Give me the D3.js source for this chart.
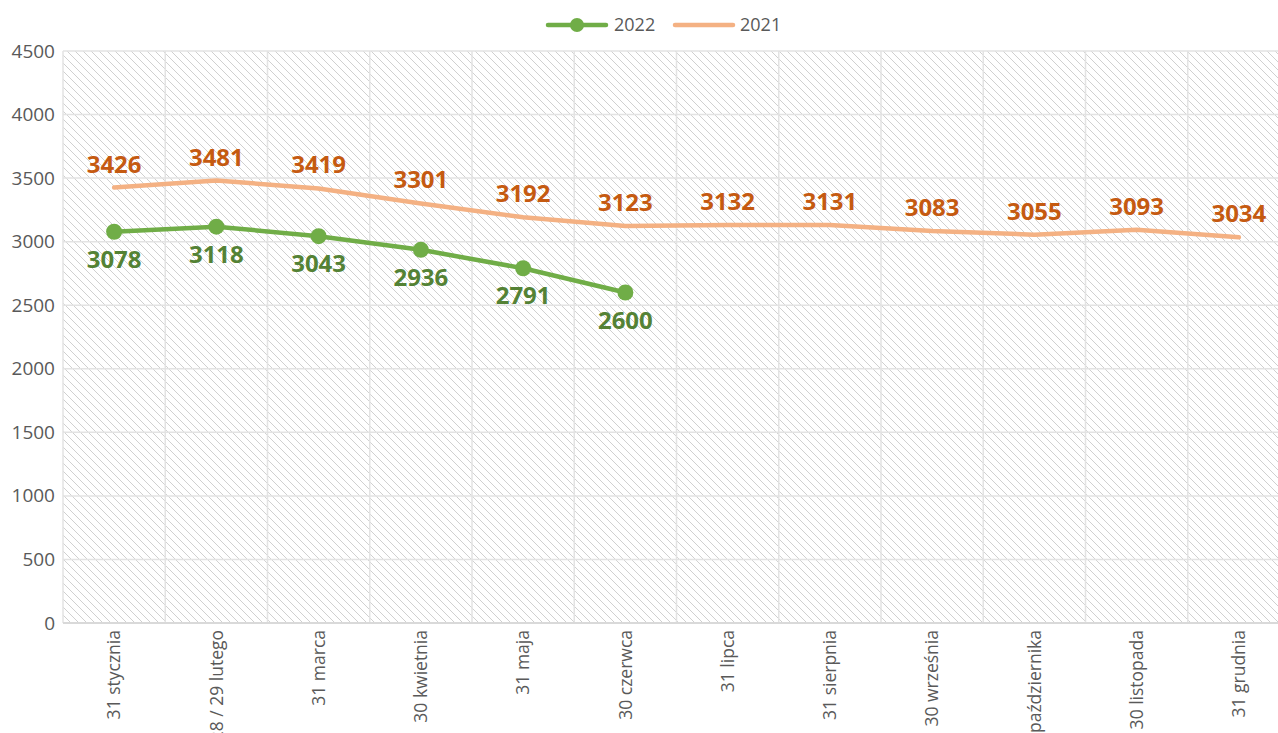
<!DOCTYPE html>
<html>
<head>
<meta charset="utf-8">
<script src="https://cdn.jsdelivr.net/npm/d3@7"></script>
<style>
  body { margin: 0; background: #fff; }
  svg { display: block; font-family: "Open Sans", sans-serif; }
</style>
</head>
<body>
<div class="chart"></div>
<script>
// --- data ---
const months = ["31 stycznia", "28 / 29 lutego", "31 marca", "30 kwietnia", "31 maja", "30 czerwca",
  "31 lipca", "31 sierpnia", "30 września", "31 października", "30 listopada", "31 grudnia"];
const values2022 = [3078, 3118, 3043, 2936, 2791, 2600];
const values2021 = [3426, 3481, 3419, 3301, 3192, 3123, 3132, 3131, 3083, 3055, 3093, 3034];
const yTicks = [0, 500, 1000, 1500, 2000, 2500, 3000, 3500, 4000, 4500];

const W = 1278, H = 733;
const plotLeft = 63, plotRight = 1290, plotTop = 51, plotBottom = 623;

const svg = d3.select(".chart").append("svg")
  .attr("width", W).attr("height", H);

// hatch pattern for plot background
const defs = svg.append("defs");
const pat = defs.append("pattern")
  .attr("id", "hatch")
  .attr("patternUnits", "userSpaceOnUse")
  .attr("width", 8).attr("height", 8);
pat.append("path")
  .attr("d", "M-2,-2 L10,10 M-2,6 L2,10 M6,-2 L10,2")
  .attr("stroke", "#d0d0d0")
  .attr("stroke-width", 1);

const x = d3.scaleBand().domain(months).range([plotLeft, plotRight]);
const y = d3.scaleLinear().domain([0, 4500]).range([plotBottom, plotTop]);

svg.append("rect")
  .attr("x", plotLeft).attr("y", plotTop)
  .attr("width", plotRight - plotLeft).attr("height", plotBottom - plotTop)
  .attr("fill", "url(#hatch)");

// grid
svg.append("g")
  .selectAll("line")
  .data(yTicks.filter(d => d > 0))
  .join("line")
  .attr("x1", plotLeft).attr("x2", plotRight)
  .attr("y1", d => y(d)).attr("y2", d => y(d))
  .attr("stroke", "#e3e3e3").attr("stroke-width", 1.5);

svg.append("g")
  .selectAll("line")
  .data(months)
  .join("line")
  .attr("x1", d => x(d)).attr("x2", d => x(d))
  .attr("y1", plotTop).attr("y2", plotBottom)
  .attr("stroke", "#e3e3e3").attr("stroke-width", 1.5);

// x axis line
svg.append("line")
  .attr("x1", plotLeft).attr("x2", plotRight)
  .attr("y1", plotBottom).attr("y2", plotBottom)
  .attr("stroke", "#d9d9d9").attr("stroke-width", 2);

// y axis labels
const yAxis = svg.append("g")
  .attr("transform", `translate(${plotLeft - 8},0)`)
  .call(d3.axisLeft(y).tickValues(yTicks).tickFormat(d3.format("d")).tickSize(0).tickPadding(0));
yAxis.select(".domain").remove();
yAxis.selectAll("text")
  .style("font-family", "Open Sans, sans-serif")
  .style("font-size", "19px")
  .attr("fill", "#595959");

// x axis labels, rotated (long ones run off the bottom, as in the original)
const xAxis = svg.append("g")
  .attr("transform", `translate(0,${plotBottom})`)
  .call(d3.axisBottom(x).tickSize(0).tickPadding(0));
xAxis.select(".domain").remove();
xAxis.selectAll("text")
  .attr("transform", "rotate(-90)")
  .attr("x", -7)
  .attr("y", 0)
  .attr("dy", "0.35em")
  .attr("text-anchor", "end")
  .style("font-family", "Open Sans, sans-serif")
  .style("font-size", "17.5px")
  .attr("fill", "#595959");

const cx = (d, i) => x(months[i]) + x.bandwidth() / 2;
const line = d3.line().x(cx).y(d => y(d));

// 2021 series
svg.append("path")
  .datum(values2021)
  .attr("d", line)
  .attr("fill", "none")
  .attr("stroke", "#F4B183")
  .attr("stroke-width", 4.5)
  .attr("stroke-linejoin", "round")
  .attr("stroke-linecap", "round");

svg.append("g")
  .selectAll("text")
  .data(values2021)
  .join("text")
  .text(d => d)
  .attr("x", cx)
  .attr("y", d => y(d) - 15)
  .attr("text-anchor", "middle")
  .style("font-size", "24px")
  .style("font-weight", "bold")
  .attr("fill", "#C55A11");

// 2022 series
svg.append("path")
  .datum(values2022)
  .attr("d", line)
  .attr("fill", "none")
  .attr("stroke", "#70AD47")
  .attr("stroke-width", 4.5)
  .attr("stroke-linejoin", "round");

svg.append("g")
  .selectAll("circle")
  .data(values2022)
  .join("circle")
  .attr("cx", cx)
  .attr("cy", d => y(d))
  .attr("r", 8)
  .attr("fill", "#70AD47");

svg.append("g")
  .selectAll("text")
  .data(values2022)
  .join("text")
  .text(d => d)
  .attr("x", cx)
  .attr("y", d => y(d) + 36)
  .attr("text-anchor", "middle")
  .style("font-size", "24px")
  .style("font-weight", "bold")
  .attr("fill", "#548235");

// legend
const legend = svg.append("g").attr("transform", "translate(0,25)");
legend.append("line")
  .attr("x1", 548).attr("x2", 606).attr("y1", 0).attr("y2", 0)
  .attr("stroke", "#70AD47").attr("stroke-width", 4.5).attr("stroke-linecap", "round");
legend.append("circle")
  .attr("cx", 577).attr("cy", 0).attr("r", 7).attr("fill", "#70AD47");
legend.append("text")
  .text("2022").attr("x", 614).attr("y", 0).attr("dy", "0.35em")
  .style("font-size", "18px").attr("fill", "#595959");
legend.append("line")
  .attr("x1", 675).attr("x2", 733).attr("y1", 0).attr("y2", 0)
  .attr("stroke", "#F4B183").attr("stroke-width", 4.5).attr("stroke-linecap", "round");
legend.append("text")
  .text("2021").attr("x", 740).attr("y", 0).attr("dy", "0.35em")
  .style("font-size", "18px").attr("fill", "#595959");
</script>
</body>
</html>
